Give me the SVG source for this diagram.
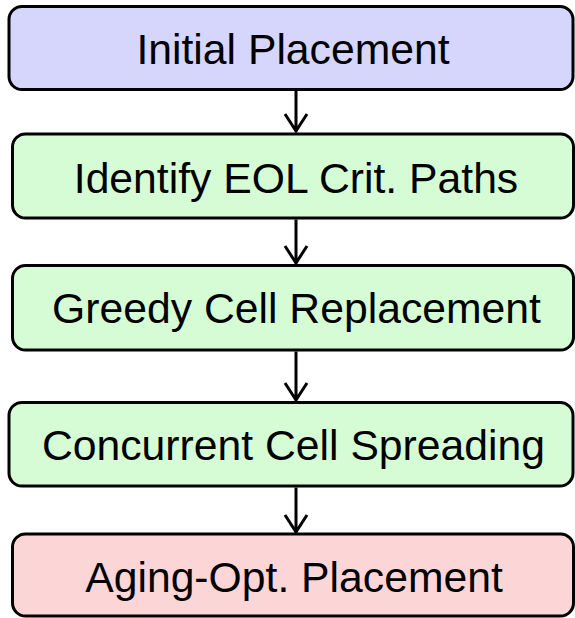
<svg xmlns="http://www.w3.org/2000/svg" width="575" height="618" viewBox="0 0 575 618">
<style>
.box{stroke:#000;stroke-width:3}
.blue{fill:#d6d6fc}.green{fill:#d6fcd6}.red{fill:#fcd6d6}
.lbl{font-family:"Liberation Sans",Arial,sans-serif;font-size:42.7px;fill:#000;text-anchor:middle}
.conn{stroke:#000;stroke-width:3;fill:none}
</style>
<rect width="575" height="618" fill="#fff"/>
<g id="n1"><rect class="box blue" x="9" y="6.5" width="564" height="83" rx="13"/><text class="lbl" x="293" y="64">Initial Placement</text></g>
<g id="n2"><rect class="box green" x="12.5" y="134" width="561" height="84" rx="13"/><text class="lbl" x="296" y="193">Identify EOL Crit. Paths</text></g>
<g id="n3"><rect class="box green" x="12.5" y="265.5" width="561" height="84.5" rx="13"/><text class="lbl" x="296.5" y="323">Greedy Cell Replacement</text></g>
<g id="n4"><rect class="box green" x="9" y="402.5" width="564" height="83.5" rx="13"/><text class="lbl" x="293.5" y="460">Concurrent Cell Spreading</text></g>
<g id="n5"><rect class="box red" x="12.5" y="534" width="561" height="82" rx="13"/><text class="lbl" x="294" y="592">Aging-Opt. Placement</text></g>
<g id="connectors">
<path class="conn" d="M296 91V132M285 114L296 131L307 114"/>
<path class="conn" d="M296 219.5V264M285 246L296 263L307 246"/>
<path class="conn" d="M296 351.5V401M285 383L296 400L307 383"/>
<path class="conn" d="M296 487.5V533M285 515L296 532L307 515"/>
</g>
</svg>
